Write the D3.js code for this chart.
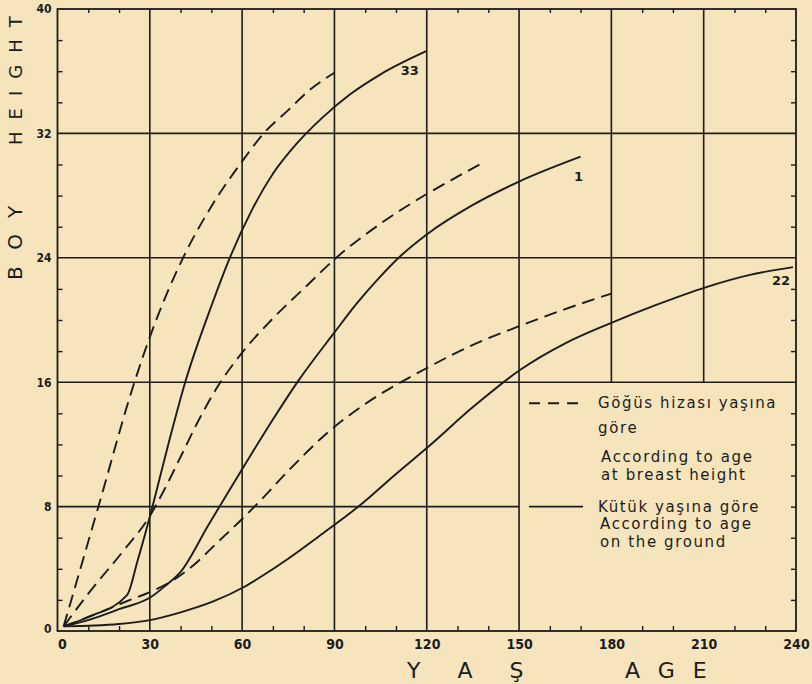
<!DOCTYPE html>
<html>
<head>
<meta charset="utf-8">
<script src="https://cdn.jsdelivr.net/npm/d3@7"></script>
<style>
  html, body { margin: 0; padding: 0; background: #f5e4bc; }
  svg { display: block; }
  .tick text { font-family: "DejaVu Sans Condensed", "DejaVu Sans", sans-serif; fill: #1c1c1c; }
  .hand { font-family: "DejaVu Sans", sans-serif; fill: #1c1c1c; }
</style>
</head>
<body>
<div id="chart"></div>
<script>
/* CONSTANTS */
const width = 812,
  height = 684,
  margin = { top: 9, bottom: 53, left: 57.5, right: 16 };

/* DATA (age in years, height in m) */
const ageTicks = [0, 30, 60, 90, 120, 150, 180, 210, 240];
const heightTicks = [0, 8, 16, 24, 32, 40];

// tree 33
const tree33Stump = [[2, 0.3], [10, 0.9], [22.6, 2.3], [26, 4.5], [29, 6.6], [31, 8.1], [36, 12], [41.5, 16],
  [50, 20.9], [56, 24], [63, 27], [70, 29.4], [78, 31.4], [86, 33], [95, 34.5], [105, 35.8], [120, 37.3]];
const tree33Breast = [[2, 0.3], [13.3, 8], [25, 16], [30, 18.9], [40.8, 24], [50, 27.3], [60, 30.2],
  [67, 32], [75, 33.5], [82, 34.8], [90, 35.9]];

// tree 1
const tree1Stump = [[2, 0.3], [10, 0.7], [20, 1.4], [30.5, 2.2], [35, 2.9], [40, 3.8], [49, 6.8], [56, 9.1],
  [64, 11.7], [70, 13.6], [78.3, 16.1], [90, 19.2], [97.4, 21.1], [104, 22.6], [111.4, 24.1],
  [120, 25.5], [135, 27.4], [150, 28.9], [170, 30.5]];
const tree1Breast = [[2, 0.3], [10, 2.4], [22, 5.3], [29.4, 7.2], [35, 9.2], [40.5, 11.4], [46, 13.6],
  [52, 15.7], [60, 17.9], [70, 20.1], [81, 22.2], [90, 23.9], [105, 26.2], [120, 28.1],
  [128, 29], [139, 30.2]];

// tree 22
const tree22Stump = [[2, 0.3], [12, 0.35], [20, 0.45], [30, 0.7], [40, 1.2], [50.6, 1.9], [60.3, 2.8],
  [67, 3.6], [74.6, 4.6], [85, 6.1], [98.4, 8.1], [110, 10.1], [120.2, 11.8], [135, 14.4], [150.4, 16.8],
  [165, 18.5], [179.8, 19.8], [195, 21], [210.6, 22.1], [225, 22.9], [239, 23.4]];
const tree22Breast = [[2, 0.3], [10, 0.9], [23.6, 2], [30, 2.5], [37, 3.2], [44, 4.2], [52, 5.7],
  [60, 7.2], [66, 8.4], [75, 10.3], [88.6, 12.9], [100, 14.6], [119, 16.8], [135, 18.4], [150, 19.6],
  [165, 20.7], [180, 21.7]];

const curveLabels = ["33", "1", "22"];

const legendBreast = ["Göğüs hizası yaşına", "göre", "According to age", "at breast height"];
const legendStump = ["Kütük yaşına göre", "According to age", "on the ground"];

const ink = "#1c1c1c";

/* SCALES */
const xScale = d3.scaleLinear().domain([0, 240]).range([margin.left, width - margin.right]);
const yScale = d3.scaleLinear().domain([0, 40]).range([height - margin.bottom, margin.top]);

const svg = d3.select("#chart").append("svg")
  .attr("width", width)
  .attr("height", height);

svg.append("rect").attr("width", width).attr("height", height).attr("fill", "#f5e4bc");

/* GRID (the legend box in the lower right has no grid inside it) */
const grid = svg.append("g").attr("stroke", ink).attr("stroke-width", 1.6);

heightTicks.filter(d => d > 0 && d < 40).forEach(v => {
  const xEnd = v < 16 ? 150 : 240;
  grid.append("line")
    .attr("x1", xScale(0)).attr("x2", xScale(xEnd))
    .attr("y1", yScale(v)).attr("y2", yScale(v));
});
ageTicks.filter(d => d > 0 && d < 240).forEach(a => {
  const yStart = a > 150 ? 16 : 0;
  grid.append("line")
    .attr("x1", xScale(a)).attr("x2", xScale(a))
    .attr("y1", yScale(yStart)).attr("y2", yScale(40));
});

// frame
svg.append("rect")
  .attr("x", xScale(0)).attr("y", yScale(40))
  .attr("width", xScale(240) - xScale(0))
  .attr("height", yScale(0) - yScale(40))
  .attr("fill", "none").attr("stroke", ink).attr("stroke-width", 1.8);

/* MINOR TICKS */
const minorAge = d3.range(10, 240, 10).filter(d => d % 30 !== 0);
const minorHeight = d3.range(2, 40, 2);

function minor(g) {
  g.select(".domain").remove();
  g.selectAll("line").attr("stroke", ink).attr("stroke-width", 1.4);
}
svg.append("g").attr("transform", `translate(0, ${yScale(0)})`)
  .call(d3.axisBottom(xScale).tickValues(minorAge).tickSize(-5).tickFormat("")).call(minor);
svg.append("g").attr("transform", `translate(0, ${yScale(40)})`)
  .call(d3.axisTop(xScale).tickValues(minorAge).tickSize(-4).tickFormat("")).call(minor);
svg.append("g").attr("transform", `translate(${xScale(0)}, 0)`)
  .call(d3.axisLeft(yScale).tickValues(minorHeight.filter(d => d % 8 !== 0)).tickSize(-5).tickFormat("")).call(minor);
svg.append("g").attr("transform", `translate(${xScale(240)}, 0)`)
  .call(d3.axisRight(yScale).tickValues(minorHeight.filter(d => d % 8 !== 0 || d === 8)).tickSize(-5).tickFormat("")).call(minor);

/* MAJOR TICK LABELS */
const xAxisGroup = svg.append("g")
  .attr("transform", `translate(0, ${yScale(0)})`)
  .call(d3.axisBottom(xScale).tickValues(ageTicks).tickSize(0).tickPadding(8).tickFormat(d3.format("d")));
xAxisGroup.select(".domain").remove();
xAxisGroup.selectAll("text")
  .attr("font-size", 14).attr("font-weight", "bold")
  .attr("text-anchor", d => d === 0 ? "start" : "middle");

const yAxisGroup = svg.append("g")
  .attr("transform", `translate(${xScale(0)}, 0)`)
  .call(d3.axisLeft(yScale).tickValues(heightTicks).tickSize(0).tickPadding(6).tickFormat(d3.format("d")));
yAxisGroup.select(".domain").remove();
yAxisGroup.selectAll("text")
  .attr("font-size", 12).attr("font-weight", "bold")
  .attr("dy", d => d === 0 ? "0.1em" : "0.32em");

/* CURVES */
const lineGen = d3.line()
  .x(d => xScale(d[0]))
  .y(d => yScale(d[1]))
  .curve(d3.curveMonotoneX);

const series = [
  { pts: tree33Breast, dash: true }, { pts: tree33Stump, dash: false },
  { pts: tree1Breast, dash: true }, { pts: tree1Stump, dash: false },
  { pts: tree22Breast, dash: true }, { pts: tree22Stump, dash: false }
];

svg.selectAll(".curve")
  .data(series)
  .join("path")
  .attr("class", "curve")
  .attr("fill", "none")
  .attr("stroke", ink)
  .attr("stroke-width", 1.9)
  .attr("stroke-dasharray", d => d.dash ? "13,7" : null)
  .attr("d", d => lineGen(d.pts));

// curve numbers, placed just under the end of each solid curve
const ends = [tree33Stump, tree1Stump, tree22Stump].map(s => s[s.length - 1]);
svg.selectAll(".curveLabel")
  .data(curveLabels)
  .join("text")
  .attr("class", "hand")
  .attr("font-size", 13).attr("font-weight", "bold")
  .attr("text-anchor", "middle")
  .attr("x", (d, i) => xScale(ends[i][0]) + [-17, -2, -12][i])
  .attr("y", (d, i) => yScale(ends[i][1]) + [24, 24, 18][i])
  .text(d => d);

/* LEGEND */
const lgX = xScale(150) + 10,
  lgY = yScale(16);
const legend = svg.append("g").attr("transform", `translate(${lgX}, ${lgY})`);

legend.append("line")
  .attr("x1", 0).attr("x2", 54).attr("y1", 21).attr("y2", 21)
  .attr("stroke", ink).attr("stroke-width", 1.9).attr("stroke-dasharray", "11,8");
legend.append("line")
  .attr("x1", 0).attr("x2", 54).attr("y1", yScale(8) - lgY).attr("y2", yScale(8) - lgY)
  .attr("stroke", ink).attr("stroke-width", 1.9);

legend.selectAll(".lb")
  .data(legendBreast)
  .join("text")
  .attr("class", "hand lb")
  .attr("font-size", 15).attr("letter-spacing", 1.6)
  .attr("x", (d, i) => i < 2 ? 69 : 72)
  .attr("y", (d, i) => [26, 51, 80, 98][i])
  .text(d => d);

legend.selectAll(".ls")
  .data(legendStump)
  .join("text")
  .attr("class", "hand ls")
  .attr("font-size", 15).attr("letter-spacing", 1.6)
  .attr("x", (d, i) => i === 0 ? 69 : 71)
  .attr("y", (d, i) => [130, 147, 165][i])
  .text(d => d);

/* AXIS TITLES */
svg.append("text").attr("class", "hand")
  .attr("x", 407).attr("y", 678)
  .attr("font-size", 22).attr("letter-spacing", 15)
  .text("Y A Ş");
svg.append("text").attr("class", "hand")
  .attr("x", 625).attr("y", 678)
  .attr("font-size", 22).attr("letter-spacing", 18)
  .text("AGE");

svg.append("text").attr("class", "hand")
  .attr("transform", "translate(22, 280) rotate(-90)")
  .attr("font-size", 20).attr("letter-spacing", 17)
  .text("BOY");
svg.append("text").attr("class", "hand")
  .attr("transform", "translate(22, 145) rotate(-90)")
  .attr("font-size", 18).attr("letter-spacing", 12)
  .text("HEIGHT");
</script>
</body>
</html>
